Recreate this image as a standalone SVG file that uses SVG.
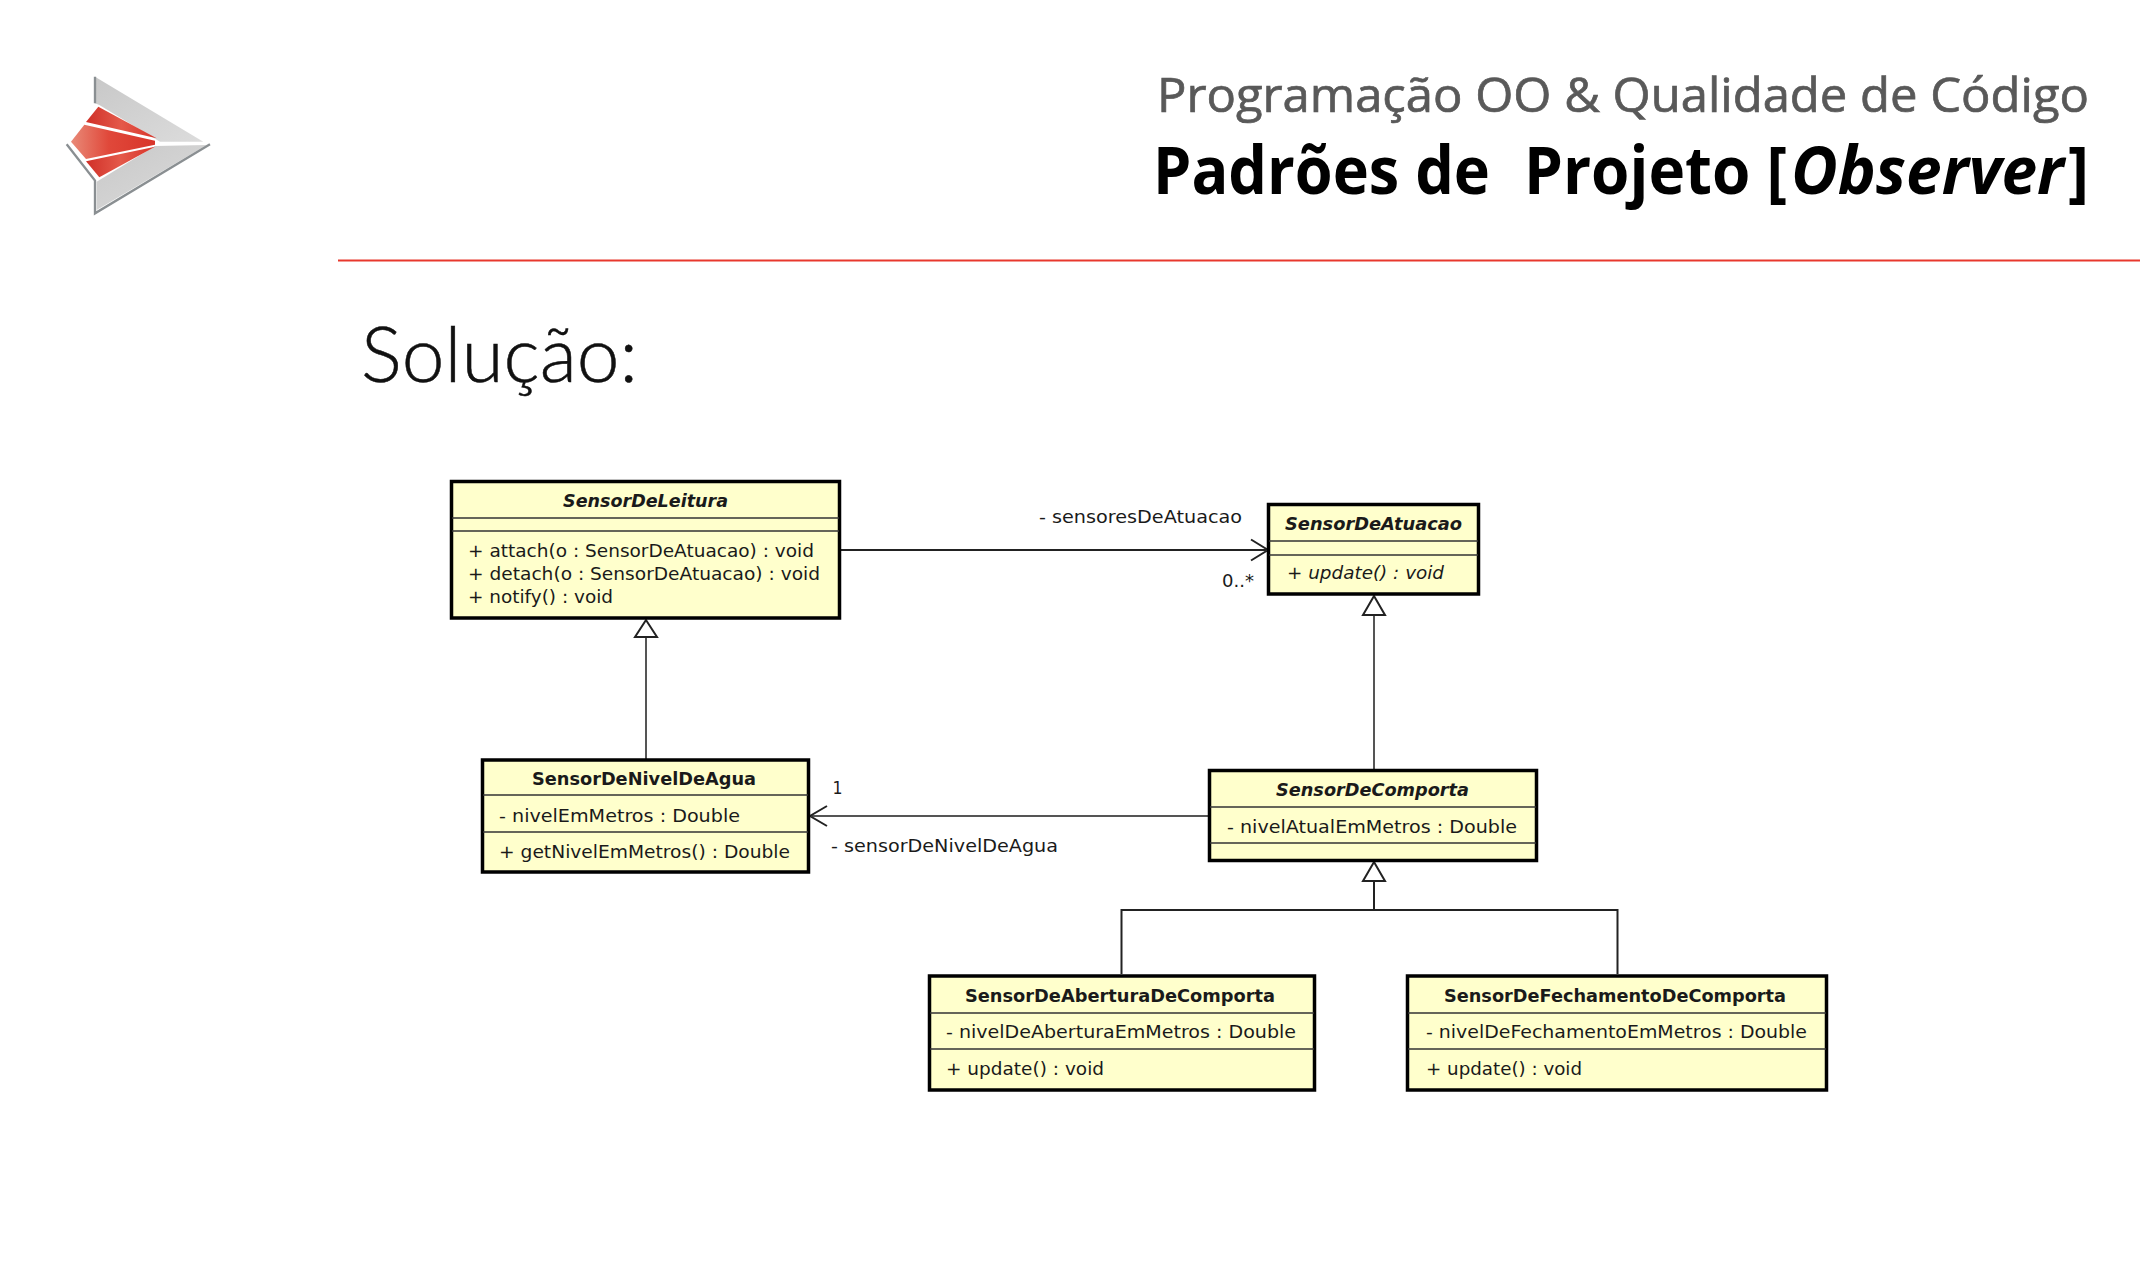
<svg xmlns="http://www.w3.org/2000/svg" width="2140" height="1276" viewBox="0 0 2140 1276">
<style>
.box{fill:#ffffcc;stroke:#000;stroke-width:3.5}
.div{stroke:#333;stroke-width:1.6;fill:none}
text{font-family:"DejaVu Sans","Liberation Sans",sans-serif;font-size:18px;fill:#1a1a1a}
.t{font-weight:700;text-anchor:start}
.i{font-style:italic}
.h{font-family:"Open Sans","Noto Sans",sans-serif}
.h1{font-size:48px;fill:#595959;stroke:#595959;stroke-width:.7}
.h2{font-size:67px;font-weight:700;fill:#000}
.sol{font-family:Lato,"Noto Sans",sans-serif;font-size:76px;font-weight:300;fill:#111;stroke:#111;stroke-width:.5}
.c{fill:none;stroke:#555;stroke-width:2}
.c2{fill:none;stroke:#222;stroke-width:2}
.tri{fill:#fff;stroke:#222;stroke-width:2}
</style>
<defs>
<linearGradient id="red" x1="0" y1="0" x2="1" y2="0"><stop offset="0" stop-color="#e98a78"/><stop offset=".45" stop-color="#e0483a"/><stop offset="1" stop-color="#d8342a"/></linearGradient>
<linearGradient id="red2" x1="0" y1="0" x2="1" y2="0"><stop offset="0" stop-color="#d03028"/><stop offset=".5" stop-color="#e4594a"/><stop offset="1" stop-color="#d8342a"/></linearGradient>
<linearGradient id="gr" x1="0" y1="0" x2="1" y2="1"><stop offset="0" stop-color="#c8c8c8"/><stop offset="1" stop-color="#dcdcdc"/></linearGradient>
</defs>
<rect width="2140" height="1276" fill="#fff"/>
<g id="logo" transform="translate(40 50) scale(.3333)">
<polygon points="165,80 490,275 360,275 178,165 165,160" fill="url(#gr)"/>
<polygon points="170,395 345,288 500,285 170,480" fill="url(#gr)"/>
<polygon points="175,170 350,265 138,216" fill="url(#red2)"/>
<polygon points="133,224 345,272 345,284 138,327 93,275" fill="url(#red)"/>
<polygon points="138,334 345,290 178,382" fill="url(#red2)"/>
<path d="M165 80V160M80 283L165 392V490L510 283" fill="none" stroke="#8a8f92" stroke-width="7"/>
</g>
<g id="header">
<text class="h h1" x="1157" y="112" textLength="932" lengthAdjust="spacingAndGlyphs">Programação OO &amp; Qualidade de Código</text>
<text class="h h2" x="1153" y="194" textLength="337" lengthAdjust="spacingAndGlyphs">Padrões de</text>
<text class="h h2" x="1524" y="194" textLength="263" lengthAdjust="spacingAndGlyphs">Projeto [</text>
<text class="h h2 i" x="1791" y="194" textLength="273" lengthAdjust="spacingAndGlyphs">Observer</text>
<text class="h h2" x="2068" y="194" textLength="21" lengthAdjust="spacingAndGlyphs">]</text>
<line x1="338" y1="260.5" x2="2140" y2="260.5" stroke="#e8382d" stroke-width="2"/>
<text class="sol" x="361" y="382" textLength="277" lengthAdjust="spacingAndGlyphs">Solução:</text>
</g>
<g id="connectors">
<path class="c2" d="M841 550H1266M1251 539.5L1268 550L1251 560.5"/>
<path class="c" d="M646 637V760"/>
<polygon class="tri" points="646,620 635,637 657,637"/>
<path class="c" d="M1374 615V769"/>
<polygon class="tri" points="1374,596 1363,615 1385,615"/>
<path class="c" d="M1208 816H812"/>
<path class="c2" d="M827 806L810 816L827 826"/>
<path class="c2" d="M1374 881V910M1121.5 974V910H1617.5V974"/>
<polygon class="tri" points="1374,862 1363,881 1385,881"/>
</g>
<g id="SensorDeLeitura">
<rect class="box" x="451.5" y="481.5" width="388" height="136.5"/>
<path class="div" d="M452 518H839M452 531H839"/>
<text class="t i" x="563" y="507" textLength="165" lengthAdjust="spacingAndGlyphs">SensorDeLeitura</text>
<text x="468" y="556.5" textLength="346" lengthAdjust="spacingAndGlyphs">+ attach(o : SensorDeAtuacao) : void</text>
<text x="468" y="580" textLength="352" lengthAdjust="spacingAndGlyphs">+ detach(o : SensorDeAtuacao) : void</text>
<text x="468" y="603" textLength="145" lengthAdjust="spacingAndGlyphs">+ notify() : void</text>
</g>
<g id="SensorDeAtuacao">
<rect class="box" x="1268.5" y="504.5" width="210" height="89.5"/>
<path class="div" d="M1269 541H1478M1269 555H1478"/>
<text class="t i" x="1285" y="530" textLength="177" lengthAdjust="spacingAndGlyphs">SensorDeAtuacao</text>
<text class="i" x="1287" y="579" textLength="157" lengthAdjust="spacingAndGlyphs">+ update() : void</text>
</g>
<g id="SensorDeNivelDeAgua">
<rect class="box" x="482.5" y="760" width="326" height="112"/>
<path class="div" d="M483 795H808M483 832H808"/>
<text class="t" x="532" y="785" textLength="224" lengthAdjust="spacingAndGlyphs">SensorDeNivelDeAgua</text>
<text x="499" y="821.5" textLength="241" lengthAdjust="spacingAndGlyphs">- nivelEmMetros : Double</text>
<text x="499" y="857.5" textLength="291" lengthAdjust="spacingAndGlyphs">+ getNivelEmMetros() : Double</text>
</g>
<g id="SensorDeComporta">
<rect class="box" x="1209.5" y="770.5" width="327" height="90"/>
<path class="div" d="M1210 807H1536M1210 843H1536"/>
<text class="t i" x="1276" y="796" textLength="193" lengthAdjust="spacingAndGlyphs">SensorDeComporta</text>
<text x="1227" y="832.5" textLength="290" lengthAdjust="spacingAndGlyphs">- nivelAtualEmMetros : Double</text>
</g>
<g id="SensorDeAberturaDeComporta">
<rect class="box" x="929.5" y="976" width="385" height="114"/>
<path class="div" d="M930 1013H1314M930 1049H1314"/>
<text class="t" x="965" y="1002" textLength="310" lengthAdjust="spacingAndGlyphs">SensorDeAberturaDeComporta</text>
<text x="946" y="1038" textLength="350" lengthAdjust="spacingAndGlyphs">- nivelDeAberturaEmMetros : Double</text>
<text x="946" y="1075" textLength="158" lengthAdjust="spacingAndGlyphs">+ update() : void</text>
</g>
<g id="SensorDeFechamentoDeComporta">
<rect class="box" x="1407.5" y="976" width="419" height="114"/>
<path class="div" d="M1408 1013H1826M1408 1049H1826"/>
<text class="t" x="1444" y="1002" textLength="342" lengthAdjust="spacingAndGlyphs">SensorDeFechamentoDeComporta</text>
<text x="1426" y="1038" textLength="381" lengthAdjust="spacingAndGlyphs">- nivelDeFechamentoEmMetros : Double</text>
<text x="1426" y="1075" textLength="156" lengthAdjust="spacingAndGlyphs">+ update() : void</text>
</g>
<g id="labels">
<text x="1039" y="523" textLength="203" lengthAdjust="spacingAndGlyphs">- sensoresDeAtuacao</text>
<text x="1222" y="587" textLength="32" lengthAdjust="spacingAndGlyphs">0..*</text>
<text x="832.5" y="794" textLength="10" lengthAdjust="spacingAndGlyphs">1</text>
<text x="831" y="852" textLength="227" lengthAdjust="spacingAndGlyphs">- sensorDeNivelDeAgua</text>
</g>
</svg>
